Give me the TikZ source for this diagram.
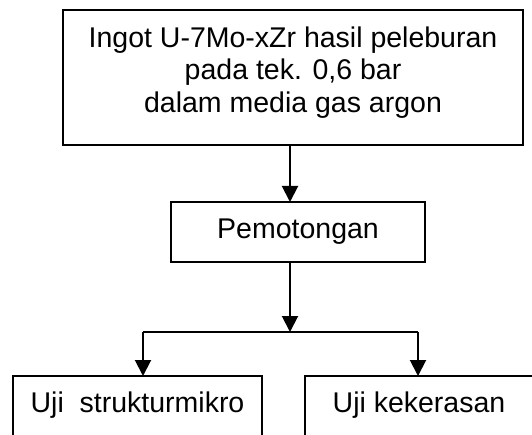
\documentclass[tikz,border=0pt]{standalone}
\usepackage{fontspec}
\setmainfont{Liberation Sans}
\usetikzlibrary{arrows.meta}
\tikzset{
  box/.style={draw=black, line width=2pt, fill=none, inner sep=0pt, outer sep=0pt},
  txt/.style={inner sep=0pt, font=\fontsize{28.5}{32.5}\selectfont},
  conn/.style={line width=2pt, draw=black},
  arr/.style={conn, -{Triangle[length=16pt,width=16pt]}},
}
\begin{document}
\begin{tikzpicture}[x=1pt,y=-1pt]
\useasboundingbox (0,0) rectangle (532,435);
\clip (0,0) rectangle (532,435);
% boxes
\node[box, minimum width=460pt, minimum height=135pt, anchor=north west] (top) at (63,10) {};
\node[txt, align=center] (toptext) at (293,72.3) {Ingot U-7Mo-xZr hasil peleburan\\pada tek. 0,6 bar\\dalam media gas argon};
\node[box, txt, minimum width=254pt, minimum height=60pt] (pem) at (298,232) {Pemotongan};
\node[box, minimum width=249pt, minimum height=90pt, anchor=north west] (L) at (13,376) {};
\node[txt, anchor=base] (Lt) at (137.5,412) {Uji\ \ strukturmikro};
\node[box, minimum width=240pt, minimum height=90pt, anchor=north west] (R) at (305,376) {};
\node[txt, anchor=base] (Rt) at (419,412) {Uji kekerasan};
% connectors
\coordinate (ax) at (290,0);
\coordinate (j) at (290,332);
\coordinate (jl) at (143,332);
\coordinate (jr) at (418,332);
\draw[arr] (top.south -| ax) -- (pem.north -| ax);
\draw[arr] (pem.south -| j) -- (j);
\draw[conn] (jl) -- (jr);
\draw[arr] (jl) -- (L.north -| jl);
\draw[arr] (jr) -- (R.north -| jr);
\end{tikzpicture}
\end{document}
